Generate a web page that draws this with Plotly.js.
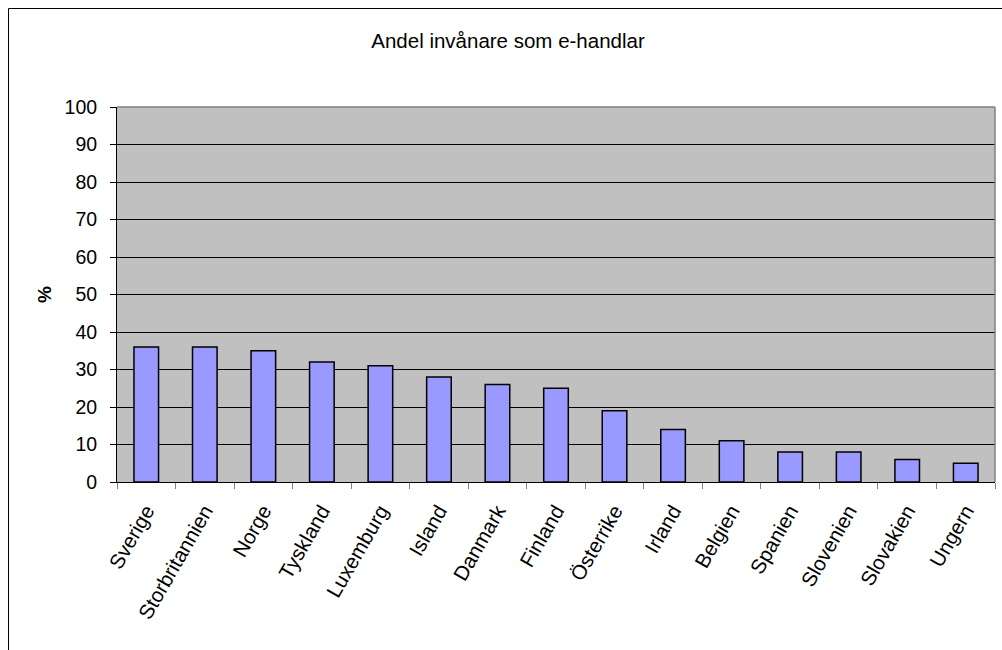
<!DOCTYPE html>
<html>
<head>
<meta charset="utf-8">
<script src="https://cdn.plot.ly/plotly-3.0.1.min.js"></script>
<style>
  html, body { margin: 0; padding: 0; background: #fff; }
  #chart { width: 1002px; height: 650px; }
</style>
</head>
<body>
<div id="chart"></div>
<script>
// Andel invånare som e-handlar, per land (%)
const countries = ['Sverige', 'Storbritannien', 'Norge', 'Tyskland', 'Luxemburg', 'Island',
  'Danmark', 'Finland', 'Österrike', 'Irland', 'Belgien', 'Spanien', 'Slovenien', 'Slovakien', 'Ungern'];
const shares = [36, 36, 35, 32, 31, 28, 26, 25, 19, 14, 11, 8, 8, 6, 5];
const yTicks = [0, 10, 20, 30, 40, 50, 60, 70, 80, 90, 100];

const W = 1002, H = 650;
const M = { l: 117, r: 7, t: 107, b: 168 };
const pw = W - M.l - M.r, ph = H - M.t - M.b;
// pixel -> paper helpers for the outer frame
const px = x => (x - M.l) / pw;
const py = y => (H - M.b - y) / ph;

const font = 'Liberation Sans, Arial, sans-serif';

const trace = {
  type: 'bar',
  x: countries,
  y: shares,
  marker: { color: '#9999FF', line: { color: '#000000', width: 1.5 } },
  hoverinfo: 'x+y'
};

const layout = {
  width: W, height: H,
  margin: M,
  paper_bgcolor: '#ffffff',
  plot_bgcolor: '#C0C0C0',
  showlegend: false,
  bargap: 0.58,
  font: { family: font, size: 19, color: '#000' },
  title: {
    text: 'Andel invånare som e-handlar',
    font: { family: font, size: 20.5, color: '#000' },
    x: 508 / W, xanchor: 'center', xref: 'container',
    y: 1 - 41 / H, yanchor: 'middle', yref: 'container'
  },
  xaxis: {
    type: 'category',
    tickangle: -60,
    ticks: 'outside', ticklen: 6, tickcolor: '#808080', tickwidth: 1,
    tickson: 'boundaries',
    ticklabelstandoff: 8,
    showline: true, linecolor: '#000', linewidth: 1,
    showgrid: false,
    tickfont: { family: font, size: 20.5, color: '#000' }
  },
  yaxis: {
    range: [0, 100],
    tickvals: yTicks,
    ticktext: yTicks.map(String),
    ticks: 'outside', ticklen: 6, tickcolor: '#000', tickwidth: 1,
    ticklabelstandoff: 9,
    showline: true, linecolor: '#000', linewidth: 1,
    showgrid: true, gridcolor: '#000', gridwidth: 1,
    zeroline: false,
    tickfont: { family: font, size: 19.5, color: '#000' },
    title: { text: '<b>%</b>', font: { family: font, size: 19, color: '#000' }, standoff: 7 }
  },
  shapes: [
    // gray top/right border of the plot area
    { type: 'line', xref: 'paper', yref: 'paper', x0: 0, x1: 1, y0: 1, y1: 1,
      line: { color: '#808080', width: 1.5 }, layer: 'above' },
    { type: 'line', xref: 'paper', yref: 'paper', x0: 1, x1: 1, y0: 0, y1: 1,
      line: { color: '#808080', width: 1.5 }, layer: 'above' },
    // outer chart frame
    { type: 'rect', xref: 'paper', yref: 'paper',
      x0: px(8.5), x1: px(1020), y0: py(670), y1: py(8.5),
      line: { color: '#000', width: 1 }, fillcolor: 'rgba(0,0,0,0)', layer: 'above' }
  ]
};

Plotly.newPlot('chart', [trace], layout, { displayModeBar: false, staticPlot: true });
</script>
</body>
</html>
